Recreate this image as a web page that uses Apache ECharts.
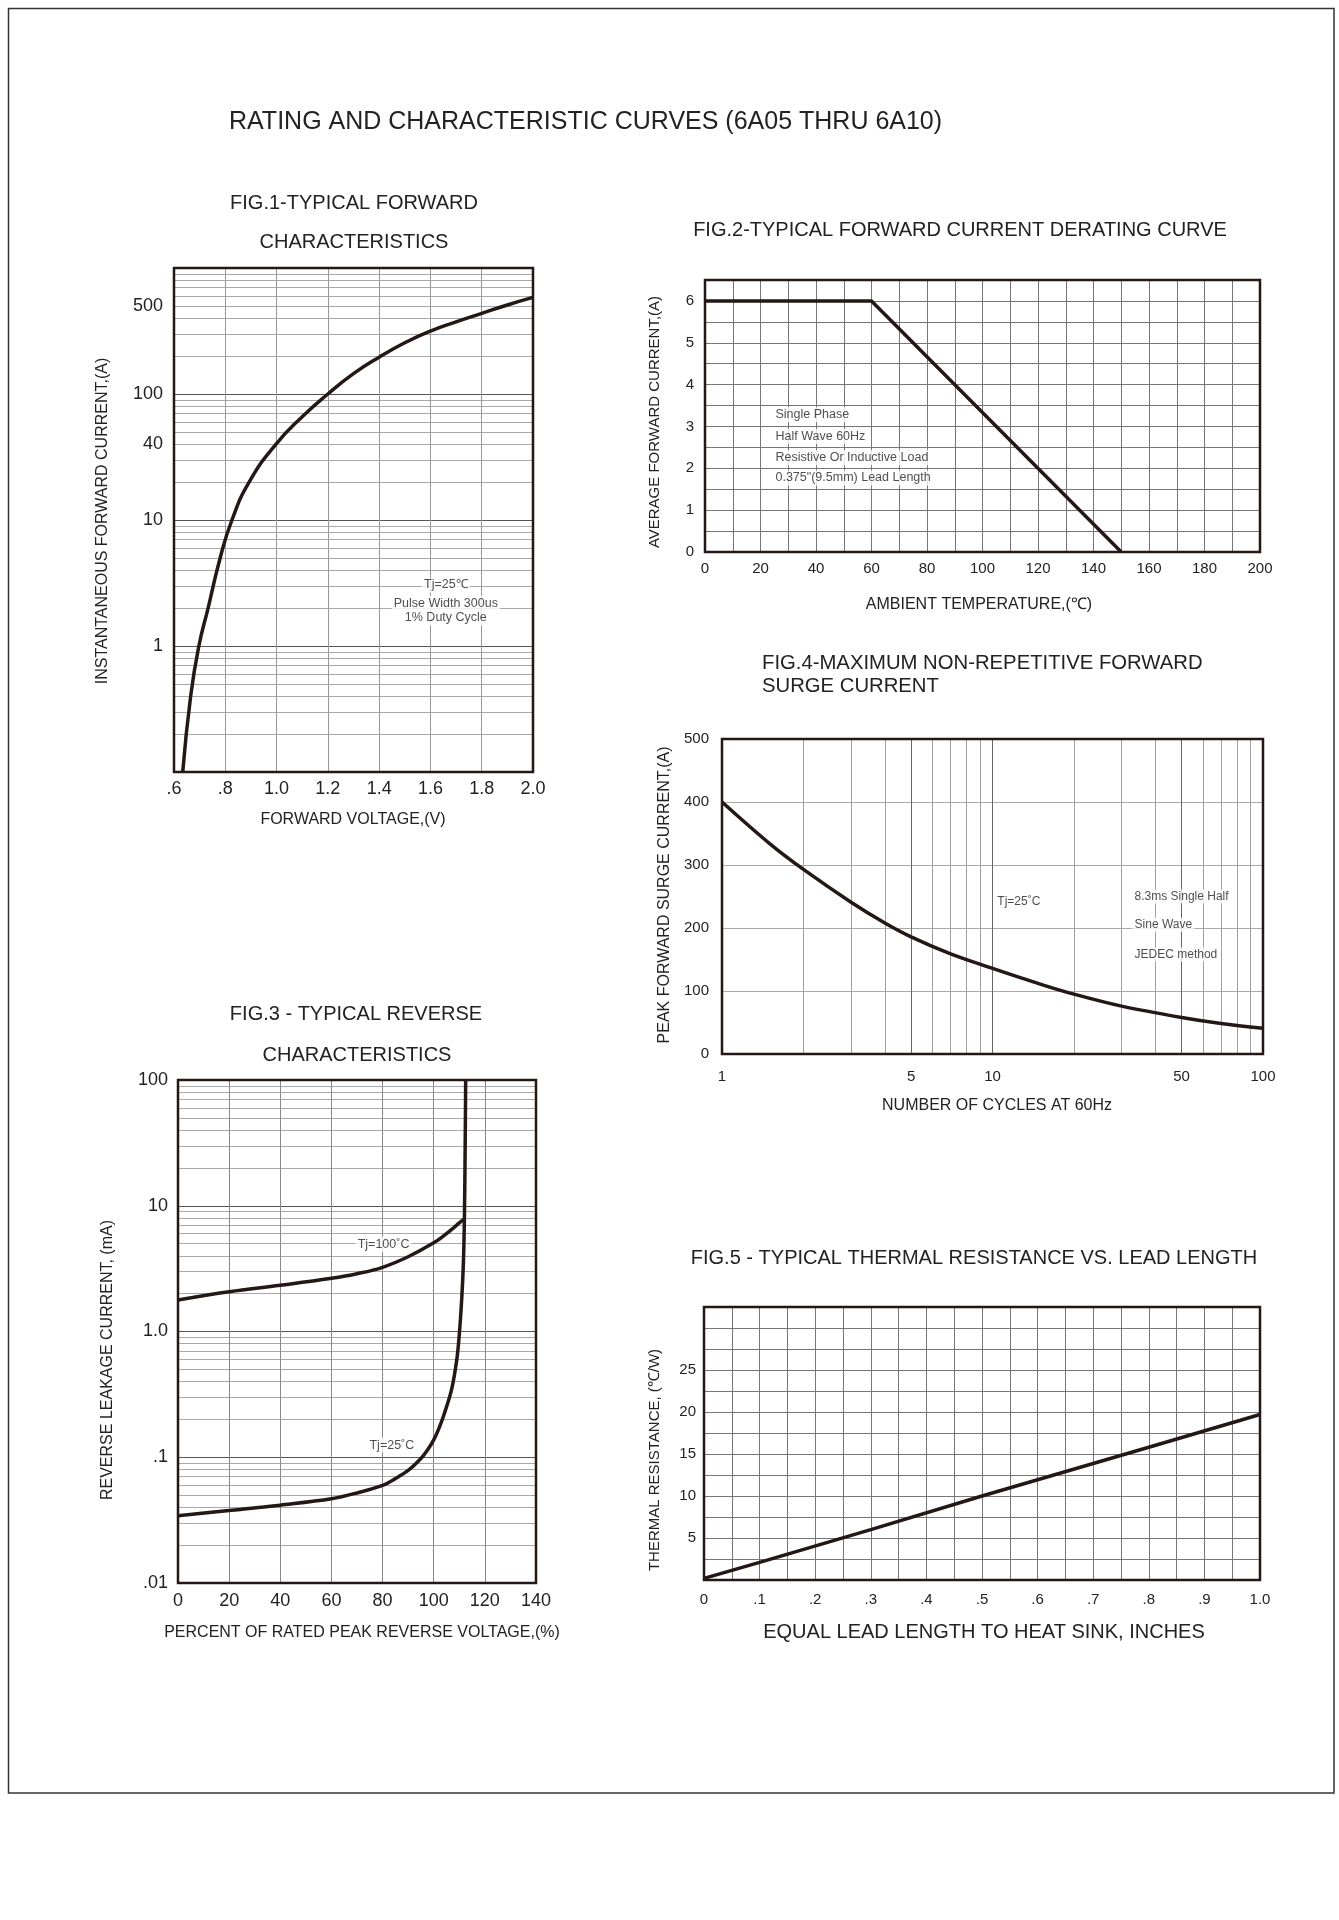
<!DOCTYPE html>
<html><head><meta charset="utf-8">
<script src="https://cdn.jsdelivr.net/npm/echarts@6/dist/echarts.min.js"></script>
<style>html,body{margin:0;padding:0;background:#fff}#c{width:1339px;height:1920px}</style>
</head><body><div id="c"></div>
<script>
// ---------- DATA ----------
// Fig.1 typical forward characteristics
const fig1Voltage = [0.634, 0.665, 0.697, 0.733, 0.78, 0.826, 0.893, 0.998, 1.1, 1.2, 1.3, 1.4, 1.5, 1.6, 1.7, 1.8, 1.9, 2.0];
const fig1Current = [0.1, 0.4, 1, 2, 5, 10, 20, 40, 66, 100, 145, 196, 255, 316, 374, 437, 509, 584];
const fig1YLabels = [1, 10, 40, 100, 500];
const fig1Notes = ['Tj=25\u2103', 'Pulse Width 300us', '1% Duty Cycle'];
const fig1NoteX = [1.66, 1.66, 1.66];
const fig1NoteY = [3.05, 2.18, 1.67];
// Fig.2 derating curve
const fig2Temp = [0, 60, 150];
const fig2Current = [6, 6, 0];
const fig2Notes = ['Single Phase', 'Half Wave 60Hz', 'Resistive Or Inductive Load', '0.375"(9.5mm) Lead Length'];
const fig2NoteX = [24.5, 24.5, 24.5, 24.5];
const fig2NoteY = [3.28, 2.76, 2.25, 1.77];
// Fig.3 typical reverse characteristics
const fig3Pct100 = [0, 20, 40, 60, 70, 80, 90, 100, 105, 108, 110, 112];
const fig3Cur100 = [1.78, 2.07, 2.33, 2.65, 2.88, 3.24, 3.93, 5.07, 6.0, 6.74, 7.3, 7.85];
const fig3Pct25 = [0, 20, 40, 60, 70, 80, 85, 90, 95, 97.5, 100, 102, 104, 107, 109, 110, 111, 111.6, 112, 112.3, 112.5];
const fig3Cur25 = [0.0343, 0.0377, 0.0416, 0.0467, 0.052, 0.0598, 0.0676, 0.0785, 0.0977, 0.1135, 0.1375, 0.169, 0.218, 0.347, 0.594, 0.944, 1.89, 3.5, 7.85, 30, 100];
const fig3Notes = ['Tj=100\u02DAC', 'Tj=25\u02DAC'];
const fig3NoteX = [69.3, 73.9];
const fig3NoteY = [4.95, 0.125];
// Fig.4 surge current
const fig4Cycles = [1, 1.5, 2, 3, 4, 5, 7, 10, 15, 20, 30, 50, 70, 100];
const fig4Surge = [400, 334, 293, 241, 208, 186, 159, 136, 111, 95, 76, 58, 48.5, 41];
const fig4XLabels = [1, 5, 10, 50, 100];
const fig4Notes = ['Tj=25\u02DAC', '8.3ms Single Half', 'Sine Wave', 'JEDEC method'];
const fig4NoteX = [10.2, 32.8, 32.8, 32.8];
const fig4NoteY = [242, 250, 205, 158];
// Fig.5 thermal resistance
const fig5Length = [0, 0.1, 0.3, 0.5, 0.8, 1.0];
const fig5Resist = [0.2, 2.1, 6.0, 10.0, 15.8, 19.7];

// ---------- HELPERS ----------
const FONT = '"Liberation Sans", Arial, Helvetica, sans-serif';
const INK = '#231815';
function logGridValues(minExp, maxExp) {
  const out = [];
  for (let e = minExp; e < maxExp; e++) for (let m = 1; m < 10; m++) out.push(+(m * Math.pow(10, e)).toPrecision(6));
  out.push(+Math.pow(10, maxExp).toPrecision(6));
  return out;
}
function mant(v) { return Math.round(v / Math.pow(10, Math.floor(Math.log10(v) + 1e-9))); }
function zip(xs, ys) { return xs.map((x, i) => [x, ys[i]]); }

const fig1Grid = logGridValues(-1, 3);
const fig1GridColors = fig1Grid.map(v => mant(v) === 1 ? '#555' : '#a8a8a8');
const fig3Grid = logGridValues(-2, 2);
const fig3GridColors = fig3Grid.map(v => mant(v) === 1 ? '#555' : '#a8a8a8');
const fig4Grid = logGridValues(0, 2);
const fig4GridColors = fig4Grid.map(v => (mant(v) === 5 || mant(v) === 1) ? '#666' : '#a0a0a0');

function noteSeries(xi, texts, xs, ys, pos, size) {
  return {
    type: 'scatter', xAxisIndex: xi, yAxisIndex: xi, silent: true, z: 6,
    symbolSize: 1, itemStyle: { color: 'rgba(0,0,0,0)' },
    data: xs.map((x, i) => ({ value: [x, ys[i]], label: { formatter: texts[i] } })),
    label: { show: true, position: pos, distance: 0, fontSize: size, fontFamily: FONT, color: '#222',
      backgroundColor: '#fff', padding: [1, 2] }
  };
}
function curve(xi, data, smooth) {
  return { type: 'line', xAxisIndex: xi, yAxisIndex: xi, data: data, showSymbol: false, silent: true,
    smooth: smooth, lineStyle: { color: INK, width: 3.5 }, z: 3 };
}
function txt(text, x, y, size, align, rot) {
  return { type: 'text', x: x, y: y, rotation: rot || 0, silent: true,
    style: { text: text, x: 0, y: 0, font: size + 'px ' + FONT, fill: '#222',
      align: align, textAlign: align, verticalAlign: 'middle', textVerticalAlign: 'middle' } };
}
const labelStyle = (size, margin) => ({ fontSize: size, fontFamily: FONT, color: '#222', margin: margin });
const gridBox = { show: true, borderColor: INK, borderWidth: 2.5, z: 5, backgroundColor: 'rgba(0,0,0,0)' };

const option = {
  animation: false,
  backgroundColor: '#fff',
  grid: [
    Object.assign({ left: 174, top: 268, width: 359, height: 504 }, gridBox),
    Object.assign({ left: 705, top: 280, width: 555, height: 272 }, gridBox),
    Object.assign({ left: 722, top: 739, width: 541, height: 315 }, gridBox),
    Object.assign({ left: 178, top: 1080, width: 358, height: 503 }, gridBox),
    Object.assign({ left: 704, top: 1307, width: 556, height: 273 }, gridBox)
  ],
  xAxis: [
    { type: 'value', gridIndex: 0, min: 0.6, max: 2.0, interval: 0.2,
      axisLine: { show: false }, axisTick: { show: false },
      axisLabel: Object.assign(labelStyle(18, 8), { formatter: v => v < 0.99 ? '.' + Math.round(v * 10) : v.toFixed(1) }),
      splitLine: { show: true, lineStyle: { color: '#999', width: 1 } } },
    { type: 'value', gridIndex: 1, min: 0, max: 200, interval: 10,
      axisLine: { show: false }, axisTick: { show: false },
      axisLabel: Object.assign(labelStyle(15, 9), { formatter: v => (Math.round(v) % 20 === 0 ? String(Math.round(v)) : '') }),
      splitLine: { show: true, lineStyle: { color: '#777', width: 1 } } },
    { type: 'log', logBase: 10, gridIndex: 2, min: 1, max: 100,
      axisLine: { show: false },
      axisTick: { show: false, customValues: fig4Grid },
      axisLabel: Object.assign(labelStyle(15, 15), { customValues: fig4XLabels, formatter: v => String(Math.round(v)) }),
      splitLine: { show: true, lineStyle: { color: fig4GridColors, width: 1 } } },
    { type: 'value', gridIndex: 3, min: 0, max: 140, interval: 20,
      axisLine: { show: false }, axisTick: { show: false },
      axisLabel: Object.assign(labelStyle(18, 9), { formatter: v => String(Math.round(v)) }),
      splitLine: { show: true, lineStyle: { color: '#888', width: 1 } } },
    { type: 'value', gridIndex: 4, min: 0, max: 1, interval: 0.05,
      axisLine: { show: false }, axisTick: { show: false },
      axisLabel: Object.assign(labelStyle(15, 12), { formatter: v => {
        const t = Math.round(v * 20);
        if (t % 2 !== 0) return '';
        if (t === 0) return '0';
        if (t === 20) return '1.0';
        return '.' + (t / 2);
      } }),
      splitLine: { show: true, lineStyle: { color: '#777', width: 1 } } }
  ],
  yAxis: [
    { type: 'log', logBase: 10, gridIndex: 0, min: 0.1, max: 1000,
      axisLine: { show: false },
      axisTick: { show: false, customValues: fig1Grid },
      axisLabel: Object.assign(labelStyle(18, 11), { customValues: fig1YLabels, formatter: v => String(Math.round(v)) }),
      splitLine: { show: true, lineStyle: { color: fig1GridColors, width: 1 } } },
    { type: 'value', gridIndex: 1, min: 0, max: 6.5, interval: 0.5,
      axisLine: { show: false }, axisTick: { show: false },
      axisLabel: Object.assign(labelStyle(15, 11), { formatter: v => (Math.abs(v - Math.round(v)) < 1e-6 ? String(Math.round(v)) : '') }),
      splitLine: { show: true, lineStyle: { color: '#777', width: 1 } } },
    { type: 'value', gridIndex: 2, min: 0, max: 500, interval: 100,
      axisLine: { show: false }, axisTick: { show: false },
      axisLabel: labelStyle(15, 13),
      splitLine: { show: true, lineStyle: { color: '#aaa', width: 1 } } },
    { type: 'log', logBase: 10, gridIndex: 3, min: 0.01, max: 100,
      axisLine: { show: false },
      axisTick: { show: false, customValues: fig3Grid },
      axisLabel: Object.assign(labelStyle(18, 10), { customValues: [0.01, 0.1, 1, 10, 100], formatter: v => {
        const e = Math.round(Math.log10(v));
        return ({ '-2': '.01', '-1': '.1', '0': '1.0', '1': '10', '2': '100' })[e];
      } }),
      splitLine: { show: true, lineStyle: { color: fig3GridColors, width: 1 } } },
    { type: 'value', gridIndex: 4, min: 0, max: 32.5, interval: 2.5,
      axisLine: { show: false }, axisTick: { show: false },
      axisLabel: Object.assign(labelStyle(15, 8), { formatter: v => {
        const t = Math.round(v * 2);
        return (t % 10 === 0 && t > 0 && t < 60) ? String(t / 2) : '';
      } }),
      splitLine: { show: true, lineStyle: { color: '#777', width: 1 } } }
  ],
  series: [
    curve(0, zip(fig1Voltage, fig1Current), 0.5),
    noteSeries(0, fig1Notes, fig1NoteX, fig1NoteY, 'inside', 12.5),
    curve(1, zip(fig2Temp, fig2Current), false),
    noteSeries(1, fig2Notes, fig2NoteX, fig2NoteY, 'right', 12.5),
    curve(2, zip(fig4Cycles, fig4Surge), 0.35),
    noteSeries(2, fig4Notes, fig4NoteX, fig4NoteY, 'right', 12),
    curve(3, zip(fig3Pct100, fig3Cur100), 0.4),
    curve(3, zip(fig3Pct25, fig3Cur25), 0.35),
    noteSeries(3, fig3Notes, fig3NoteX, fig3NoteY, 'right', 12.5),
    curve(4, zip(fig5Length, fig5Resist), false)
  ],
  graphic: [
    { type: 'rect', silent: true, shape: { x: 8.5, y: 8.5, width: 1325.5, height: 1784.5 },
      style: { fill: 'none', stroke: '#333', lineWidth: 1.5 } },
    txt('RATING AND CHARACTERISTIC CURVES (6A05 THRU 6A10)', 229, 122, 25, 'left'),
    txt('FIG.1-TYPICAL FORWARD', 354, 203, 20, 'center'),
    txt('CHARACTERISTICS', 354, 242, 20, 'center'),
    txt('FIG.2-TYPICAL FORWARD CURRENT DERATING CURVE', 960, 230, 20, 'center'),
    txt('FIG.4-MAXIMUM NON-REPETITIVE FORWARD', 762, 663, 20.3, 'left'),
    txt('SURGE CURRENT', 762, 686, 20.3, 'left'),
    txt('FIG.3 - TYPICAL REVERSE', 356, 1014, 20, 'center'),
    txt('CHARACTERISTICS', 357, 1055, 20, 'center'),
    txt('FIG.5 - TYPICAL THERMAL RESISTANCE VS. LEAD LENGTH', 974, 1258, 20, 'center'),
    txt('FORWARD VOLTAGE,(V)', 353, 820, 16, 'center'),
    txt('INSTANTANEOUS FORWARD CURRENT,(A)', 103, 521, 16, 'center', Math.PI / 2),
    txt('AMBIENT TEMPERATURE,(\u2103)', 979, 605, 16, 'center'),
    txt('AVERAGE FORWARD CURRENT,(A)', 655, 422, 15, 'center', Math.PI / 2),
    txt('NUMBER OF CYCLES AT 60Hz', 997, 1106, 16, 'center'),
    txt('PEAK FORWARD SURGE CURRENT,(A)', 665, 895, 16, 'center', Math.PI / 2),
    txt('PERCENT OF RATED PEAK REVERSE VOLTAGE,(%)', 362, 1633, 16, 'center'),
    txt('REVERSE LEAKAGE CURRENT, (mA)', 108, 1360, 16, 'center', Math.PI / 2),
    txt('EQUAL LEAD LENGTH TO HEAT SINK, INCHES', 984, 1632, 20, 'center'),
    txt('THERMAL RESISTANCE, (\u2103/W)', 655, 1460, 15, 'center', Math.PI / 2)
  ]
};
const chart = echarts.init(document.getElementById('c'), null, { renderer: 'canvas' });
chart.setOption(option);
</script>
</body></html>
